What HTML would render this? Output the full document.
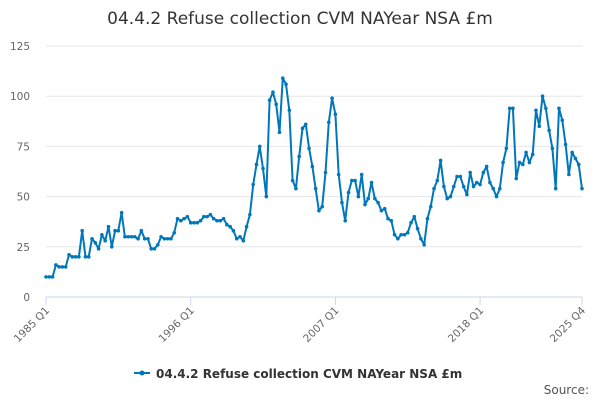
<!DOCTYPE html>
<html><head><meta charset="utf-8"><style>
body{margin:0;background:#fff;font-family:"DejaVu Sans",sans-serif;}
svg text{font-family:"DejaVu Sans",sans-serif;}
</style></head><body>
<svg id="chart" width="600" height="400">
<text x="300" y="24" text-anchor="middle" font-size="17" fill="#333">04.4.2 Refuse collection CVM NAYear NSA £m</text>
<g id="grid"></g><g id="axes"></g><g id="series"></g>
<g>
<line x1="134" y1="373" x2="150" y2="373" stroke="#0077bb" stroke-width="2"/>
<circle cx="142" cy="373" r="2.5" fill="#0077bb"/>
<text x="156" y="378" font-size="12" font-weight="bold" fill="#333">04.4.2 Refuse collection CVM NAYear NSA £m</text>
</g>
<text x="589" y="394" text-anchor="end" font-size="12" fill="#555">Source:</text>
</svg>
<script>
const values=[10,10,10,16,15,15,15,21,20,20,20,33,20,20,29,27,24,31,28,35,25,33,33,42,30,30,30,30,29,33,29,29,24,24,26,30,29,29,29,32,39,38,39,40,37,37,37,38,40,40,41,39,38,38,39,36,35,33,29,30,28,35,41,56,66,75,64,50,98,102,96,82,109,106,93,58,54,70,84,86,74,65,54,43,45,62,87,99,91,61,47,38,52,58,58,50,61,46,49,57,49,47,43,44,39,38,31,29,31,31,32,37,40,34,29,26,39,45,54,58,68,55,49,50,55,60,60,55,51,62,55,57,56,62,65,57,54,50,54,67,74,94,94,59,67,66,72,67,71,93,85,100,94,83,74,54,94,88,76,61,72,69,66,54];
const yTicks=[0,25,50,75,100,125];
const xLabels=["1985 Q1","1996 Q1","2007 Q1","2018 Q1","2025 Q4"];
const xLabelIdx=[0,44,88,132,163];
const NS="http://www.w3.org/2000/svg";
const x0=46,x1=582,y0=297,y1=46;
const X=i=>x0+i*(x1-x0)/(values.length-1);
const Y=v=>y0-(v/125)*(y0-y1);
function mk(t,a,p){const e=document.createElementNS(NS,t);for(const k in a)e.setAttribute(k,a[k]);p.appendChild(e);return e;}
const grid=document.getElementById('grid'),axes=document.getElementById('axes'),ser=document.getElementById('series');
yTicks.forEach(v=>{
 const l=mk('line',{x1:x0,x2:x1,y1:Y(v),y2:Y(v),stroke:v===0?'#ccd6eb':'#e6e6e6','stroke-width':1},grid);
 
 
 const t=mk('text',{x:30,y:Y(v)+4,'text-anchor':'end','font-size':10.5,fill:'#666'},axes);
 t.textContent=v;
 
 
});
xLabels.forEach((s,k)=>{
 const x=X(xLabelIdx[k]);
 const tk=mk('line',{x1:x,x2:x,y1:y0,y2:y0+8,stroke:'#ccd6eb'},axes);
 
 
 const t=mk('text',{x:x+4,y:y0+14,'text-anchor':'end','font-size':10.5,fill:'#666',transform:`rotate(-45 ${x+4} ${y0+14})`},axes);
 t.textContent=s;
 
 
});
const pts=values.map((v,i)=>X(i).toFixed(1)+','+Y(v).toFixed(1)).join(' ');
const pl=mk('polyline',{points:pts,fill:'none',stroke:'#0077bb','stroke-width':2,'stroke-linejoin':'round'},ser);


values.forEach((v,i)=>{
 const c=mk('circle',{cx:X(i),cy:Y(v),r:1.8,fill:'#0077bb'},ser);
 
 
});
</script>
</body></html>
